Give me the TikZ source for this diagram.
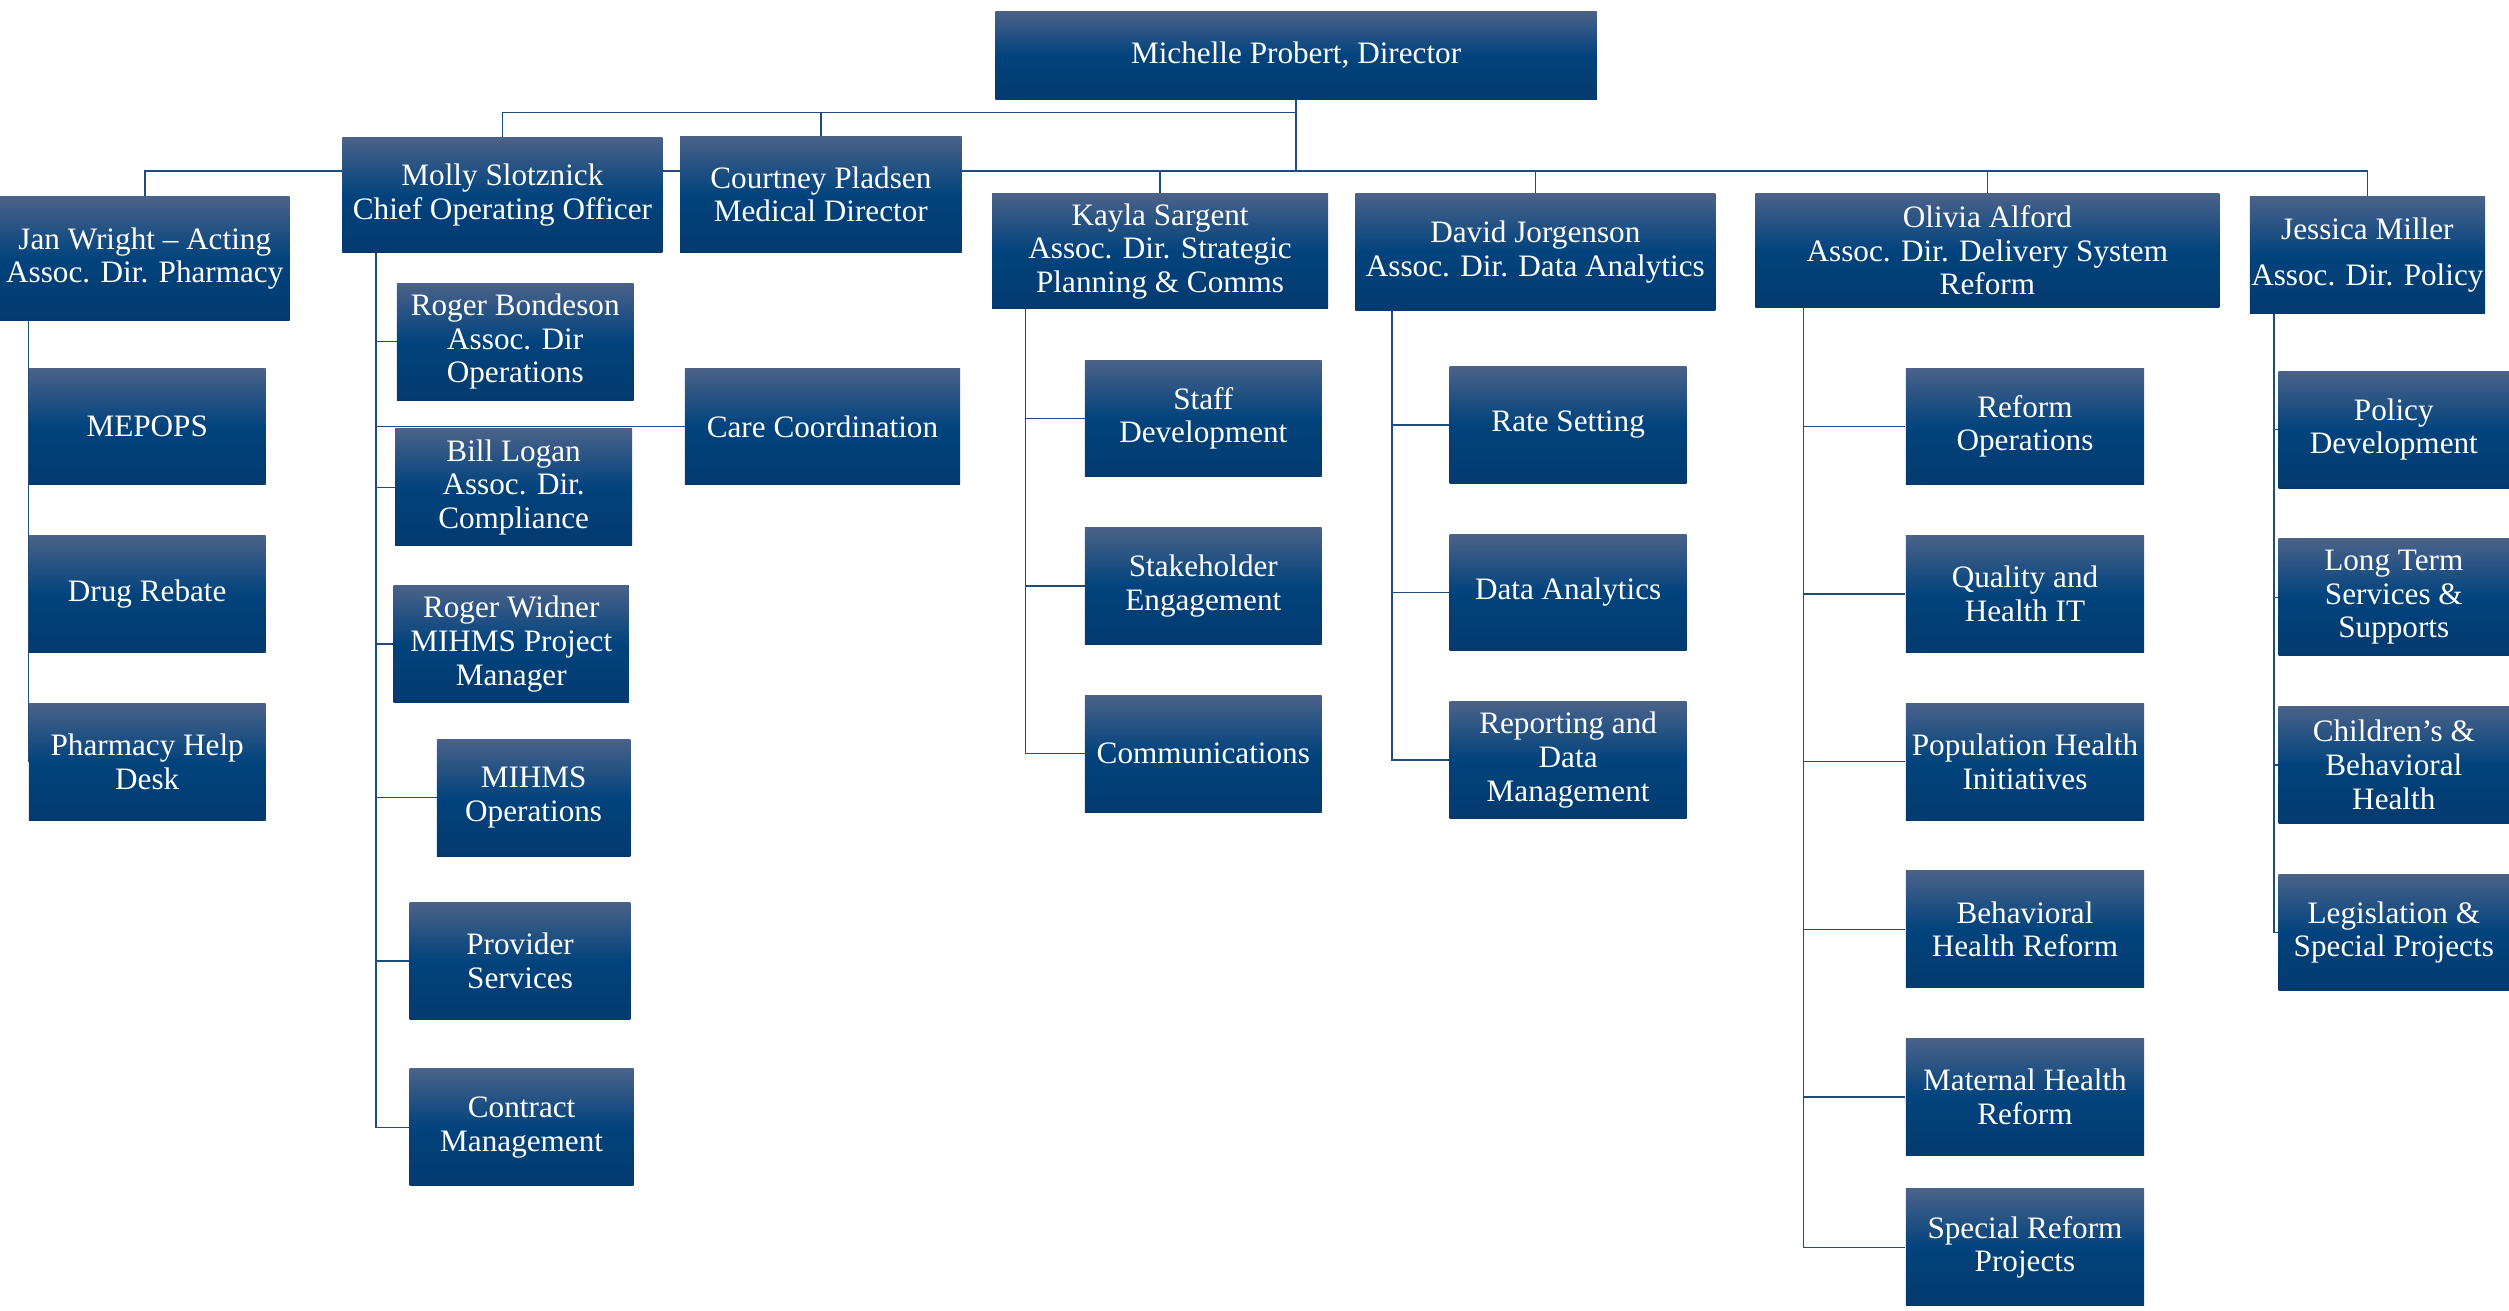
\documentclass[tikz,border=0pt]{standalone}
\usepackage{fontspec}
\setmainfont{Liberation Serif}
\usetikzlibrary{positioning, backgrounds}

\definecolor{boxtop}{HTML}{4A6289}
\definecolor{boxmid}{HTML}{02437D}
\definecolor{boxbot}{HTML}{043A6F}
\definecolor{wire}{HTML}{1F4C7C}

\tikzset{
  unit/.style={rectangle, top color=boxtop, bottom color=boxbot, middle color=boxmid,
    text=white, align=center, inner sep=0pt, font=\fontsize{19.5}{21}\selectfont},
  sub/.style={unit, minimum width=148pt, minimum height=73pt},
  wire/.style={draw=wire, line width=0.9pt}
}

\begin{document}
\begin{tikzpicture}[x=1pt,y=-1pt,node distance=104.75pt,on grid]
            \useasboundingbox (0,0) rectangle (1568,819);
            % top of the chart
            \node[unit, minimum width=376pt, minimum height=55pt] (dir) at (810,34.5) {Michelle Probert, Director};
            \node[unit, minimum width=200pt, minimum height=72pt] (molly) at (314,122) {Molly Slotznick\\Chief Operating Officer};
            \node[unit, minimum width=176pt, minimum height=73pt] (courtney) at (513,121.5) {Courtney Pladsen\\Medical Director};
            \node[unit, minimum width=181pt, minimum height=77pt] (jan) at (90.5,161.5) {Jan Wright -- Acting\\Assoc. Dir. Pharmacy};
            \node[unit, minimum width=210pt, minimum height=72pt] (kayla) at (725,157) {Kayla Sargent\\Assoc. Dir. Strategic\\Planning \& Comms};
            \node[unit, minimum width=225pt, minimum height=73pt] (david) at (959.5,157.5) {David Jorgenson\\Assoc. Dir. Data Analytics};
            \node[unit, minimum width=290pt, minimum height=71pt] (olivia) at (1242,156.5) {Olivia Alford\\Assoc. Dir. Delivery System\\Reform};
            \node[unit, minimum width=147pt, minimum height=73pt] (jessica) at (1479.5,159.5) {Jessica Miller\\[8pt]Assoc. Dir. Policy};

            % pharmacy
            \node[sub] (mepops) at (92,266.5) {MEPOPS};
            \node[sub] (rebate) [below=of mepops] {Drug Rebate};
            \node[sub] (helpdesk) [below=of rebate] {Pharmacy Help\\Desk};

            % operations
            \node[sub] (bondeson) at (322,213.5) {Roger Bondeson\\Assoc. Dir\\Operations};
            \node[sub, minimum width=172pt] (carecoord) at (514,266.5) {Care Coordination};
            \node[sub] (logan) at (321,304.5) {Bill Logan\\Assoc. Dir.\\Compliance};
            \node[sub, minimum width=147pt] (widner) at (319.5,402.5) {Roger Widner\\MIHMS Project\\Manager};
            \node[sub, minimum width=121pt] (mihms) at (333.5,498.5) {MIHMS\\Operations};
            \node[sub, minimum width=138pt] (provider) at (325,600.5) {Provider\\Services};
            \node[sub, minimum width=140pt] (contract) at (326,704.5) {Contract\\Management};

            % strategic planning
            \node[sub] (staffdev) at (752,261.5) {Staff\\Development};
            \node[sub] (stakeholder) [below=of staffdev] {Stakeholder\\Engagement};
            \node[sub] (comms) [below=of stakeholder] {Communications};

            % data analytics
            \node[sub] (rate) at (980,265.5) {Rate Setting};
            \node[sub] (analytics) [below=of rate] {Data Analytics};
            \node[sub] (reporting) [below=of analytics] {Reporting and\\Data\\Management};

            % delivery system reform
            \node[sub, minimum width=149pt] (reformops) at (1265.5,266.5) {Reform\\Operations};
            \node[sub, minimum width=149pt] (quality) [below=of reformops] {Quality and\\Health IT};
            \node[sub, minimum width=149pt] (population) [below=of quality] {Population Health\\Initiatives};
            \node[sub, minimum width=149pt] (behavioral) [below=of population] {Behavioral\\Health Reform};
            \node[sub, minimum width=149pt] (maternal) [below=of behavioral] {Maternal Health\\Reform};
            \node[sub, minimum width=149pt] (special) [below=94pt of maternal] {Special Reform\\Projects};

            % policy
            \node[sub, minimum width=144pt] (policydev) at (1496,268.5) {Policy\\Development};
            \node[sub, minimum width=144pt] (ltss) [below=of policydev] {Long Term\\Services \&\\Supports};
            \node[sub, minimum width=144pt] (childbh) [below=of ltss] {Children’s \&\\Behavioral\\Health};
            \node[sub, minimum width=144pt] (legislation) [below=of childbh] {Legislation \&\\Special Projects};

            \coordinate (bus) at (810,107);
            \coordinate (mspine) at (235,158);
            \coordinate (kspine) at (641,193);
            \coordinate (dspine) at (870,194);
            \coordinate (ospine) at (1127,192);
            \coordinate (jspine) at (1421,196);

            \begin{scope}[on background layer]
                \draw[wire] (dir.south) -- ++(0,8) -| (molly.north);
                \draw[wire] (dir.south) -- ++(0,8) -| (courtney.north);
                \foreach \n in {jan, kayla, david, olivia, jessica}
                    \draw[wire] (dir.south) -- (bus) -| (\n.north);
                \draw[wire] (mepops.west |- jan.south) |- (helpdesk.west);
                \foreach \n in {bondeson, carecoord, logan, widner, mihms, provider, contract}
                    \draw[wire] (mspine) |- (\n.west);
                \foreach \n in {staffdev, stakeholder, comms}
                    \draw[wire] (kspine) |- (\n.west);
                \foreach \n in {rate, analytics, reporting}
                    \draw[wire] (dspine) |- (\n.west);
                \foreach \n in {reformops, quality, population, behavioral, maternal, special}
                    \draw[wire] (ospine) |- (\n.west);
                \foreach \n in {policydev, ltss, childbh, legislation}
                    \draw[wire] (jspine) |- (\n.west);
            \end{scope}
        \end{tikzpicture}
\end{document}
